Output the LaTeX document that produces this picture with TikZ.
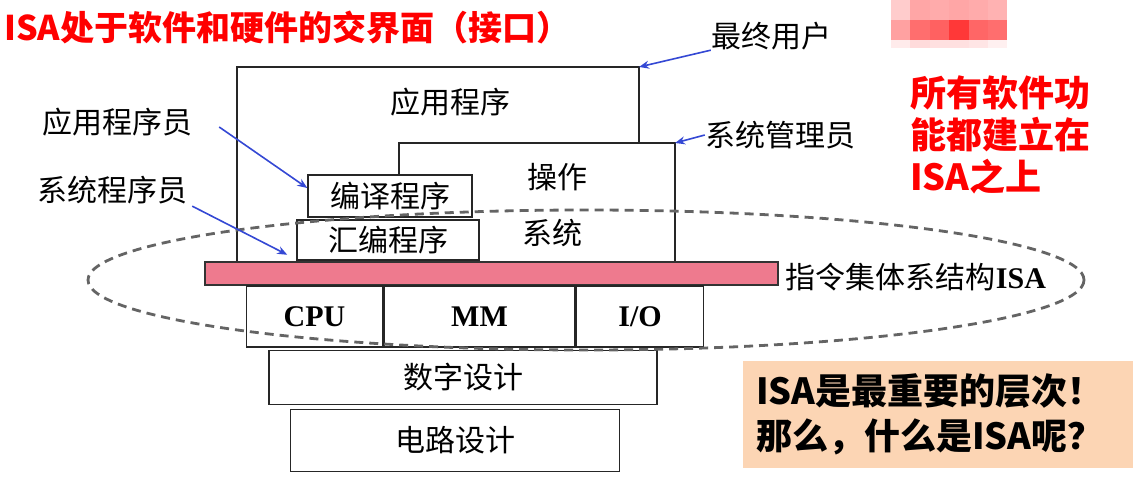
\documentclass[tikz,border=0pt]{standalone}
\usepackage{fontspec}
\setmainfont{Noto Sans CJK SC}
\newfontfamily\serifhw{Liberation Serif}
\usepackage{tikz}
\usetikzlibrary{arrows.meta,positioning}
\usepackage{xcolor}
\definecolor{isapink}{RGB}{238,122,142}
\definecolor{notepeach}{RGB}{252,213,180}
\definecolor{callblue}{RGB}{52,72,212}
\definecolor{ringgray}{RGB}{100,100,100}

\begin{document}
\begin{tikzpicture}[x=1pt,y=-1pt,
    layer/.style={draw=black!85,line width=1.5pt,fill=white,inner sep=0pt,font=\fontsize{30}{30}\selectfont},
    hwpart/.style={layer,minimum height=61pt,font=\serifhw\bfseries\fontsize{30}{30}\selectfont},
    lbl/.style={inner sep=0pt,font=\fontsize{30}{30}\selectfont},
    edge/.style={draw=black!85,line width=1.5pt},
    who/.style={-{Stealth[length=10pt,width=8pt]},draw=callblue,line width=1.6pt}]
  \path[use as bounding box,fill=white] (0,0) rectangle (1139,476);
  % redacted blur
  \foreach \c [count=\i from 0] in {20,35,33,35,33,30}
    \fill[red!\c] (891+19.4*\i,0) rectangle +(19.4,20);
  \foreach \c [count=\i from 0] in {37,57,62,78,60,57}
    \fill[red!\c] (891+19.4*\i,20) rectangle +(19.4,20);
  \foreach \c [count=\i from 0] in {8,14,12,12,10,6}
    \fill[red!\c] (891+19.4*\i,40) rectangle +(19.4,8);
  % title
  \node[anchor=west,inner sep=0pt,text=red,font=\bfseries\fontsize{34}{34}\selectfont] (title) at (4,27) {ISA处于软件和硬件的交界面（接口）};
  % software layers
  \coordinate (appBL) at (237,262);
  \coordinate (appTR) at (639,67);
  \coordinate (appBR) at (639,143);
  \coordinate (osTL) at (399,175);
  \coordinate (osTR) at (675,143);
  \coordinate (osBR) at (675,262);
  \draw[edge] (appBL) |- (appTR) -- (appBR);
  \draw[edge] (osTL) |- (osTR) -- (osBR);
  \node[lbl] (app) at (450,102) {应用程序};
  \node[lbl] (os1) at (557,177) {操作};
  \node[lbl] (os2) at (552,233) {系统};
  \node[layer,minimum width=164pt,minimum height=42pt] (comp) at (390,196) {编译程序};
  \node[layer,minimum width=182pt,minimum height=40pt] (asm) at (388,240) {汇编程序};
  % ISA
  \node[draw=black!80,line width=1.5pt,fill=isapink,minimum width=573pt,minimum height=23pt,inner sep=0pt] (isabar) at (491.5,273.5) {};
  \node[lbl,right=7pt of isabar,yshift=-4pt] (isalbl) {指令集体系结构{\serifhw\bfseries ISA}};
  % hardware
  \node[hwpart,minimum width=136pt] (cpu) at (314.5,316.5) {CPU};
  \node[hwpart,minimum width=191pt,right=0pt of cpu] (mm) {MM};
  \node[hwpart,minimum width=127pt,right=0pt of mm] (io) {I/O};
  \node[layer,minimum width=388pt,minimum height=54pt] (dig) at (463,377.5) {数字设计};
  \node[layer,minimum width=329pt,minimum height=62pt] (circ) at (455,440.5) {电路设计};
  \draw[ringgray,line width=2.8pt,dash pattern=on 9pt off 6pt] (586,280) ellipse [x radius=498,y radius=70];
  % people
  \node[lbl] (enduser) at (771,36) {最终用户};
  \node[lbl] (sysadmin) at (780,135) {系统管理员};
  \node[lbl] (appprog) at (117,122) {应用程序员};
  \node[lbl] (sysprog) at (112,190) {系统程序员};
  \draw[who] (enduser.south west) -- (appTR);
  \draw[who] (sysadmin.west) -- (osTR);
  \draw[who] ([xshift=27pt,yshift=-5pt]appprog.east) -- ([yshift=8pt]comp.west);
  \draw[who] ([xshift=5pt,yshift=-2pt]sysprog.south east) -- ([xshift=-9pt,yshift=6pt]asm.south west);
  % notes
  \node[anchor=west,inner sep=0pt,align=left,text=red,font=\bfseries\fontsize{36}{42}\selectfont] (basis) at (910,135) {所有软件功\\能都建立在\\ISA之上};
  \node[fill=notepeach,minimum width=390pt,minimum height=107pt,inner xsep=13pt,text width=364pt,align=left,font=\bfseries\fontsize{36}{45}\selectfont] (note) at (938,414.5) {ISA是最重要的层次！\\那么，什么是ISA呢？};
\end{tikzpicture}
\end{document}
